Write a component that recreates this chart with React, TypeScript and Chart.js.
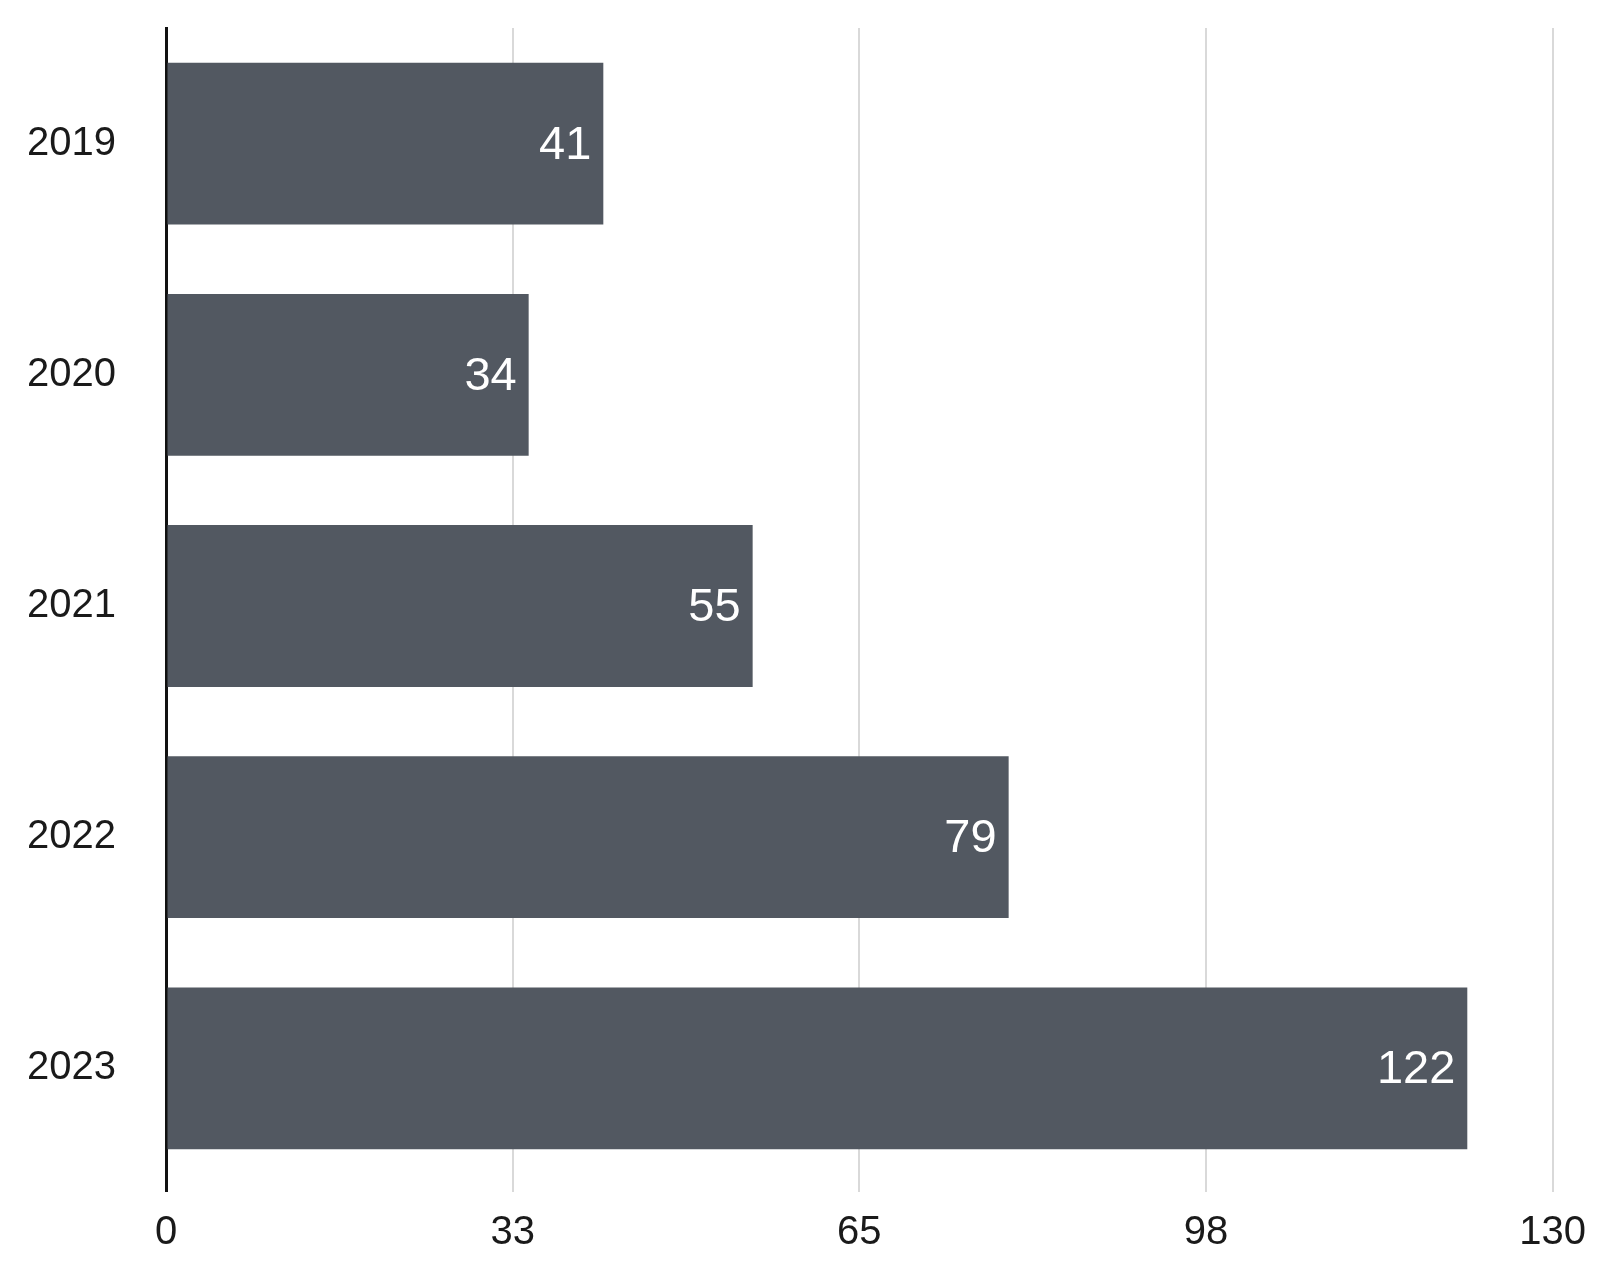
import React, { useEffect, useRef } from "react";
import { Chart, registerables } from "chart.js";

Chart.register(...registerables);

const categories = ["2019", "2020", "2021", "2022", "2023"];
const values = [41, 34, 55, 79, 122];
const xTickLabels = ["0", "33", "65", "98", "130"];

const FONT = "'Liberation Sans', Arial, Helvetica, sans-serif";
const BAR_COLOR = "#525861";

const barLabelPlugin = {
  id: "barLabels",
  afterDatasetsDraw(chart: any) {
    const ctx = chart.ctx;
    const meta = chart.getDatasetMeta(0);
    ctx.save();
    ctx.fillStyle = "#ffffff";
    ctx.font = `47px ${FONT}`;
    ctx.textAlign = "right";
    ctx.textBaseline = "middle";
    meta.data.forEach((bar: any, i: number) => {
      ctx.fillText(String(values[i]), bar.x - 12, bar.y + 2);
    });
    ctx.restore();
  },
};

export default function App() {
  const ref = useRef<HTMLCanvasElement | null>(null);
  useEffect(() => {
    if (!ref.current) return;
    const chart = new Chart(ref.current, {
      type: "bar",
      data: {
        labels: categories,
        datasets: [
          {
            data: values,
            backgroundColor: BAR_COLOR,
            borderWidth: 0,
            barPercentage: 0.7,
            categoryPercentage: 1,
          },
        ],
      },
      options: {
        indexAxis: "y",
        animation: false,
        responsive: true,
        maintainAspectRatio: false,
        layout: { padding: { top: 20, right: 49, left: 0, bottom: 0 } },
        plugins: { legend: { display: false }, tooltip: { enabled: false } },
        scales: {
          x: {
            min: 0,
            max: 130,
            afterBuildTicks(scale: any) {
              scale.ticks = xTickLabels.map((_, i) => ({ value: i * 32.5 }));
            },
            afterFit(scale: any) {
              scale.height = 80;
            },
            ticks: {
              callback: (_v: any, i: number) => xTickLabels[i],
              color: "#1a1a1a",
              font: { family: FONT, size: 40 },
              padding: 17,
              maxRotation: 0,
            },
            grid: {
              color: (c: any) => (c.index === 0 ? "#111111" : "#d9d9d9"),
              lineWidth: (c: any) => (c.index === 0 ? 3 : 2),
              tickLength: 8,
            },
            border: { display: false },
          },
          y: {
            afterFit(scale: any) {
              scale.width = 158;
              scale.paddingTop = 0;
              scale.paddingBottom = 0;
            },
            ticks: {
              color: "#1a1a1a",
              font: { family: FONT, size: 40 },
              padding: 50,
            },
            grid: { display: false, drawTicks: false },
            border: { display: true, color: "#111111", width: 3 },
          },
        },
      },
      plugins: [barLabelPlugin],
    });
    return () => chart.destroy();
  }, []);
  return (
    <div style={{ width: 1595, height: 1256, position: "relative" }}>
      <canvas ref={ref} />
    </div>
  );
}
